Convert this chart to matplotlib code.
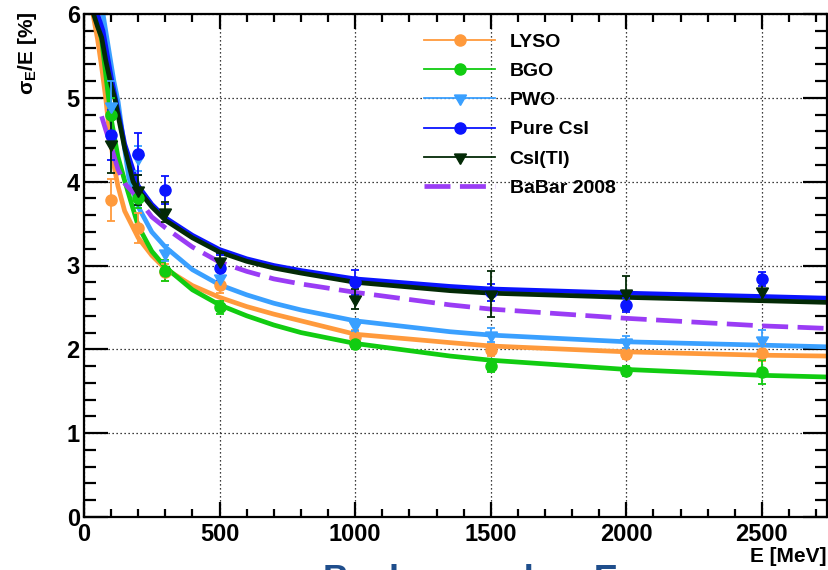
import matplotlib
matplotlib.use('Agg')
import matplotlib.pyplot as plt
from matplotlib.ticker import MultipleLocator
from matplotlib.lines import Line2D

plt.rcParams['font.family'] = ['Liberation Sans', 'DejaVu Sans']
plt.rcParams['font.weight'] = 'bold'
plt.rcParams['mathtext.fontset'] = 'custom'
plt.rcParams['mathtext.rm'] = 'Liberation Sans:bold'
plt.rcParams['mathtext.it'] = 'Liberation Sans:bold'
plt.rcParams['mathtext.bf'] = 'Liberation Sans:bold'

# ---------------- data ----------------
labels = ['LYSO', 'BGO', 'PWO', 'Pure CsI', 'CsI(Tl)', 'BaBar 2008']
colors = ['#ff9a3c', '#11cc11', '#3aa0ff', '#0a14ff', '#032a06', '#9a3cf5']

# measured points (MeV, %)
E_pts = [100, 200, 300, 500, 1000, 1500, 2000, 2500]
lyso_pts = [3.78, 3.45, 2.92, 2.77, 2.15, 1.99, 1.95, 1.96]
lyso_err = [0.25, 0.18, 0.10, 0.10, 0.08, 0.07, 0.07, 0.10]
bgo_pts = [4.80, 3.80, 2.94, 2.50, 2.06, 1.80, 1.74, 1.73]
bgo_err = [0.20, 0.12, 0.12, 0.08, 0.06, 0.07, 0.06, 0.14]
pwo_pts = [4.90, 4.28, 3.15, 2.85, 2.29, 2.17, 2.09, 2.11]
pwo_err = [0.30, 0.15, 0.10, 0.10, 0.07, 0.08, 0.07, 0.12]
pure_pts = [4.56, 4.33, 3.90, 2.97, 2.80, 2.68, 2.53, 2.84]
pure_err = [0.30, 0.25, 0.17, 0.15, 0.15, 0.10, 0.08, 0.08]
cstl_pts = [4.45, 3.90, 3.64, 3.05, 2.60, 2.66, 2.67, 2.69]
cstl_err = [0.35, 0.18, 0.12, 0.10, 0.12, 0.27, 0.20, 0.12]

# fitted curves, values
E_lyso = [33, 50, 65, 80, 90, 100, 110, 125, 150, 200, 250, 300, 400, 500, 600, 700, 800, 1000, 1350, 1500, 2000, 2500, 2740]
lyso_fit = [6.0, 5.7, 5.37, 5.0, 4.7, 4.45, 4.2, 3.95, 3.65, 3.33, 3.12, 2.96, 2.76, 2.62, 2.51, 2.42, 2.34, 2.18, 2.08, 2.04, 1.97, 1.93, 1.92]
E_bgo = [40, 65, 85, 100, 125, 151, 200, 250, 300, 400, 500, 600, 700, 800, 1000, 1350, 1500, 2000, 2500, 2740]
bgo_fit = [6.0, 5.7, 5.15, 4.75, 4.3, 4.0, 3.47, 3.17, 2.98, 2.71, 2.53, 2.40, 2.29, 2.20, 2.07, 1.92, 1.87, 1.76, 1.69, 1.67]
E_pwo = [70, 90, 110, 126, 145, 165, 200, 250, 300, 400, 500, 600, 700, 800, 1000, 1350, 1500, 2000, 2500, 2740]
pwo_fit = [6.0, 5.6, 5.2, 4.95, 4.5, 4.05, 3.7, 3.4, 3.22, 2.95, 2.77, 2.65, 2.55, 2.47, 2.34, 2.21, 2.17, 2.09, 2.05, 2.03]
E_pure = [50, 70, 100, 125, 150, 200, 250, 300, 400, 500, 600, 700, 800, 1000, 1350, 1500, 2000, 2500, 2740]
pure_fit = [6.0, 5.8, 5.25, 4.85, 4.45, 3.95, 3.73, 3.57, 3.36, 3.19, 3.08, 3.00, 2.94, 2.84, 2.75, 2.72, 2.67, 2.63, 2.61]
E_cstl = [35, 50, 65, 80, 100, 114, 125, 150, 181, 200, 250, 300, 400, 500, 600, 700, 800, 1000, 1350, 1500, 2000, 2500, 2740]
cstl_fit = [6.0, 5.85, 5.72, 5.45, 5.15, 4.99, 4.8, 4.4, 4.0, 3.9, 3.7, 3.54, 3.33, 3.16, 3.05, 2.97, 2.91, 2.80, 2.70, 2.67, 2.62, 2.58, 2.56]
E_babar = [65, 80, 100, 125, 150, 200, 250, 300, 400, 500, 600, 700, 800, 1000, 1350, 1500, 2000, 2500, 2740]
babar_fit = [4.78, 4.62, 4.42, 4.15, 3.98, 3.80, 3.58, 3.45, 3.22, 3.04, 2.93, 2.84, 2.78, 2.68, 2.53, 2.48, 2.37, 2.28, 2.25]

xticks = [0, 500, 1000, 1500, 2000, 2500]
yticks = [0, 1, 2, 3, 4, 5, 6]

# ---------------- figure ----------------
W, H = 829, 570
fig = plt.figure(figsize=(W / 100, H / 100), dpi=100)
ax = fig.add_axes([84 / W, 1 - 517 / H, (827 - 84) / W, (517 - 14) / H])

star_dn = (3, 1, 180)
markers = ['o', 'o', star_dn, 'o', star_dn]
fits = [(E_lyso, lyso_fit), (E_bgo, bgo_fit), (E_pwo, pwo_fit), (E_pure, pure_fit), (E_cstl, cstl_fit)]
pts = [(lyso_pts, lyso_err), (bgo_pts, bgo_err), (pwo_pts, pwo_err), (pure_pts, pure_err), (cstl_pts, cstl_err)]

for i, (ex, fy) in enumerate(fits):
    ax.plot(ex, fy, color=colors[i], lw=3.4, zorder=2 + i * 0.01, solid_joinstyle='round')
ax.plot(E_babar, babar_fit, color=colors[5], lw=3.4, ls=(0, (5.5, 2.0)), zorder=2.1)

for i, (py, pe) in enumerate(pts):
    ms = 8 if markers[i] == 'o' else 10
    ax.errorbar(E_pts, py, yerr=pe, fmt='none', ecolor=colors[i], elinewidth=1.3,
                capsize=3, capthick=1.3, zorder=3)
    ax.plot(E_pts, py, ls='none', marker=markers[i], ms=ms, color=colors[i],
            mec=colors[i], zorder=3.1)

ax.set_xlim(0, 2740)
ax.set_ylim(0, 6)
ax.set_xticks(xticks)
ax.set_yticks(yticks)
ax.xaxis.set_minor_locator(MultipleLocator(100))
ax.yaxis.set_minor_locator(MultipleLocator(0.2))
ax.grid(True, which='major', color='black', ls=(0, (1, 2.2)), lw=0.9, zorder=1)
ax.tick_params(axis='both', which='both', direction='in', top=True, right=True,
               width=1.6, labelsize=17, colors='black')
ax.tick_params(axis='y', which='major', length=17, pad=3)
ax.tick_params(axis='y', which='minor', length=8.5)
ax.tick_params(axis='x', which='major', length=11, pad=4)
ax.tick_params(axis='x', which='minor', length=5.5)
for s in ax.spines.values():
    s.set_linewidth(1.6)
for lab in ax.get_xticklabels() + ax.get_yticklabels():
    lab.set_fontweight('bold')

# axis titles (ROOT style, at the ends)
fig.text(28 / W, 1 - 12 / H, r'$\sigma_{E}$/E [%]', rotation=90, ha='center', va='top',
         fontsize=15, fontweight='bold')
fig.text(827 / W, 1 - 557 / H, 'E [MeV]', ha='right', va='center', fontsize=15,
         fontweight='bold')

# legend
handles = []
for i in range(5):
    ms = 8 if markers[i] == 'o' else 10
    handles.append(Line2D([], [], color=colors[i], lw=1.3, marker=markers[i], ms=ms,
                          mec=colors[i]))
handles.append(Line2D([], [], color=colors[5], lw=3.4, ls=(0, (5.5, 2.0))))
fig.legend(handles, labels, loc='upper left', bbox_to_anchor=(424 / W, 1 - 33 / H),
           frameon=False, handlelength=3.66, handletextpad=0.75,
           labelspacing=0.6, borderpad=0, borderaxespad=0, prop={'weight': 'bold', 'size': 14})

# slide heading below the chart, cut by the picture frame as in the original
fig.text(323 / W, -21 / H, 'Background vs E', ha='left', va='baseline', fontsize=26,
         fontweight='bold', color='#1f4e8c')

fig.savefig('out.png', dpi=100)
